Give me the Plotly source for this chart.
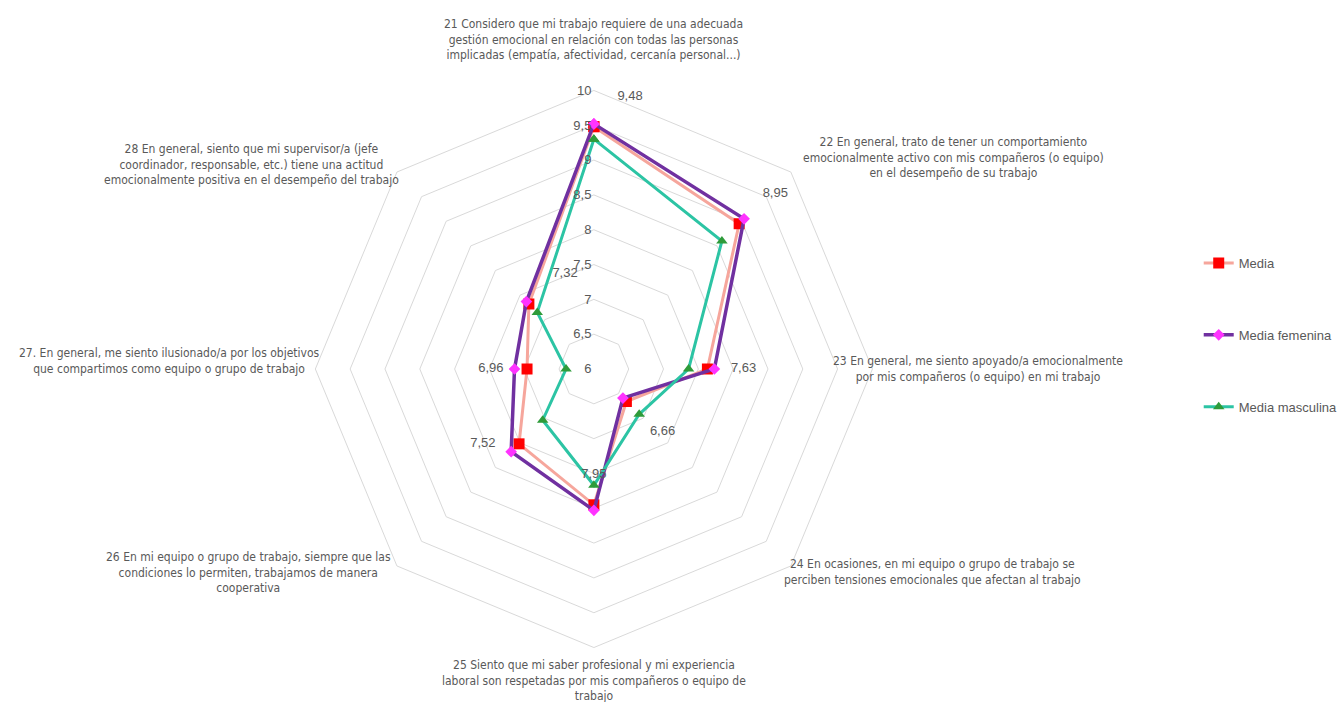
import plotly.graph_objects as go

categories = ["21", "22", "23", "24", "25", "26", "27", "28"]
media = [9.48, 8.95, 7.63, 6.66, 7.95, 7.52, 6.96, 7.32]
media_femenina = [9.52, 9.05, 7.73, 6.59, 8.03, 7.68, 7.14, 7.37]
media_masculina = [9.30, 8.60, 7.36, 6.92, 7.67, 7.04, 6.40, 7.15]
radial_ticks = [6, 6.5, 7, 7.5, 8, 8.5, 9, 9.5, 10]
label_positions = ["top right", "top right", "middle right", "bottom right",
                   "top center", "middle left", "middle left", "top right"]

category_texts = [
    "21 Considero que mi trabajo requiere de una adecuada<br>gestión emocional en relación con todas las personas<br>implicadas (empatía, afectividad, cercanía personal...)",
    "22 En general, trato de tener un comportamiento<br>emocionalmente activo con mis compañeros (o equipo)<br>en el desempeño de su trabajo",
    "23 En general, me siento apoyado/a emocionalmente<br>por mis compañeros (o equipo) en mi trabajo",
    "24 En ocasiones, en mi equipo o grupo de trabajo se<br>perciben tensiones emocionales que afectan al trabajo",
    "25 Siento que mi saber profesional y mi experiencia<br>laboral son respetadas por mis compañeros o equipo de<br>trabajo",
    "26 En mi equipo o grupo de trabajo, siempre que las<br>condiciones lo permiten, trabajamos de manera<br>cooperativa",
    "27. En general, me siento ilusionado/a por los objetivos<br>que compartimos como equipo o grupo de trabajo",
    "28 En general, siento que mi supervisor/a (jefe<br>coordinador, responsable, etc.) tiene una actitud<br>emocionalmente positiva en el desempeño del trabajo",
]
# label centers in pixels (x, y of block center)
label_xy = [(597, 39), (958, 157), (983, 369), (937, 572),
            (597, 680), (250, 572), (170, 361), (253, 164)]

W, H = 1343, 702
GRAY = "#595959"
LABEL_FONT = "Liberation Sans Narrow, DejaVu Sans Condensed, sans-serif"

theta = categories + [categories[0]]
def closed(v):
    return v + [v[0]]

fig = go.Figure()
fig.add_trace(go.Scatterpolar(
    r=closed(media), theta=theta, name="Media", mode="lines+markers",
    line=dict(color="#F6A69C", width=3),
    marker=dict(symbol="square", size=11, color="#FF0000"),
    legendgroup="a"))
fig.add_trace(go.Scatterpolar(
    r=closed(media_femenina), theta=theta, name="Media femenina", mode="lines+markers",
    line=dict(color="#7030A0", width=3.5),
    marker=dict(symbol="diamond", size=9, color="#FF33FF"),
    legendgroup="b"))
fig.add_trace(go.Scatterpolar(
    r=closed(media_masculina), theta=theta, name="Media masculina", mode="lines+markers",
    line=dict(color="#2CC4A4", width=3),
    marker=dict(symbol="triangle-up", size=10, color="#2E9B3A"),
    legendgroup="c"))
# data labels for "Media"
fig.add_trace(go.Scatterpolar(
    r=media, theta=categories, mode="markers+text",
    text=[f"{v:.2f}".replace(".", ",") for v in media],
    textposition=label_positions,
    textfont=dict(family="Liberation Sans, Arial, sans-serif", size=13, color=GRAY),
    marker=dict(size=36, color="rgba(0,0,0,0)"),
    showlegend=False, hoverinfo="skip"))

for txt, (px, py) in zip(category_texts, label_xy):
    fig.add_annotation(
        x=px / W, y=1 - py / H, xref="paper", yref="paper",
        text=txt, showarrow=False, align="center",
        xanchor="center", yanchor="middle",
        font=dict(family=LABEL_FONT, size=12, color=GRAY))

cx, cy, R = 597, 369, 280
fig.update_layout(
    width=W, height=H,
    margin=dict(l=0, r=0, t=0, b=0),
    paper_bgcolor="white", plot_bgcolor="white",
    separators=", ",
    polar=dict(
        domain=dict(x=[(cx - R) / W, (cx + R) / W], y=[1 - (cy + R) / H, 1 - (cy - R) / H]),
        bgcolor="white",
        gridshape="linear",
        angularaxis=dict(rotation=90, direction="clockwise", showgrid=False,
                         showticklabels=False, ticks="", showline=True,
                         linecolor="#D9D9D9", linewidth=1),
        radialaxis=dict(range=[6, 10], tickvals=radial_ticks, angle=90, tickangle=90,
                        side="counterclockwise", showline=False, ticks="",
                        ticksuffix="\u00a0\u00a0",
                        gridcolor="#D9D9D9", gridwidth=1,
                        tickfont=dict(family="Liberation Sans, Arial, sans-serif",
                                      size=13, color=GRAY)),
    ),
    legend=dict(x=1205 / W, y=1 - 248 / H, xanchor="left", yanchor="top",
                tracegroupgap=52,
                font=dict(family="Liberation Sans, Arial, sans-serif", size=13, color=GRAY),
                bgcolor="rgba(0,0,0,0)"),
)

fig.write_html("out.html")
